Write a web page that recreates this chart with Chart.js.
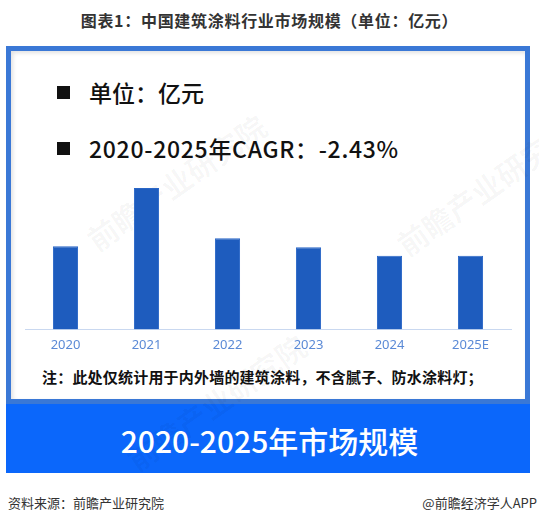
<!DOCTYPE html>
<html>
<head>
<meta charset="utf-8">
<script src="https://cdn.jsdelivr.net/npm/chart.js@4"></script>
<style>
  html, body { margin: 0; padding: 0; background: #fff; }
  body { width: 539px; height: 519px; position: relative; overflow: hidden;
         font-family: "Noto Sans CJK SC", "Noto Sans", sans-serif; }
  .title { position: absolute; left: 0; top: 8px; width: 539px; text-align: center;
           font-size: 16px; font-weight: bold; color: #333; line-height: 24px; letter-spacing: 0.7px; }
  .outer { position: absolute; left: 6px; top: 46px; width: 524px; height: 427px; background: #0b67fb; }
  .panel { position: absolute; left: 0; top: 0; width: 524px; height: 358px; box-sizing: border-box;
           border: 5px solid #3a78d6; background: #fff; box-shadow: inset 2px 2px 4px rgba(0,0,0,0.12); }
  .leg { position: absolute; left: 0; font-size: 23px; font-weight: 500; color: #111; line-height: 30px; white-space: nowrap; }
  .leg .sq { position: absolute; left: 57px; width: 13px; height: 13px; background: #111; }
  .leg .tx { position: absolute; left: 89px; top: 0; }
  .note { position: absolute; left: 42px; top: 367px; font-size: 15px; font-weight: bold; color: #111; white-space: nowrap; line-height: 20px; letter-spacing: 0.2px; }
  .band { position: absolute; left: 0; top: 420px; width: 539px; text-align: center; color: #fff;
          font-size: 30px; font-weight: 500; line-height: 40px; }
  .src { position: absolute; left: 8px; top: 494px; font-size: 13px; color: #333; line-height: 18px; }
  .app { position: absolute; right: 2px; top: 494px; font-size: 13px; color: #333; line-height: 18px; }
  .wm { position: absolute; color: rgba(0,0,0,0.035); font-size: 30px; font-weight: bold; white-space: nowrap;
        transform: rotate(-35deg); transform-origin: left center; }
  canvas { position: absolute; left: 12px; top: 150px; }
</style>
</head>
<body>
<div class="title">图表1：中国建筑涂料行业市场规模（单位：亿元）</div>
<div class="outer">
  <div class="panel"></div>
</div>
<div class="wm" style="left:90px; top:220px;">前瞻产业研究院</div>
<div class="wm" style="left:400px; top:225px;">前瞻产业研究院</div>
<div class="wm" style="left:130px; top:440px;">前瞻产业研究院</div>
<div class="leg" style="top:77px;"><span class="sq" style="top:9px;"></span><span class="tx">单位：亿元</span></div>
<div class="leg" style="top:133px;"><span class="sq" style="top:9px;"></span><span class="tx" style="letter-spacing:0.7px;">2020-2025年CAGR：-2.43%</span></div>
<canvas id="c" width="512" height="211"></canvas>
<div class="note">注：此处仅统计用于内外墙的建筑涂料，不含腻子、防水涂料灯；</div>
<div class="band">2020-2025年市场规模</div>
<div class="src">资料来源：前瞻产业研究院</div>
<div class="app">@前瞻经济学人APP</div>
<script>
const categories = ["2020", "2021", "2022", "2023", "2024", "2025E"];
const marketSize = [1660, 2820, 1820, 1640, 1470, 1468];
const yMax = 3580;

new Chart(document.getElementById('c'), {
  type: 'bar',
  data: {
    labels: categories,
    datasets: [{
      data: marketSize,
      backgroundColor: '#1e5cbe',
      borderColor: '#2a66c6',
      borderWidth: 1,
      barPercentage: 0.31,
      categoryPercentage: 1.0
    }]
  },
  options: {
    responsive: false,
    animation: false,
    events: [],
    layout: { padding: { left: 13, right: 13, top: 0, bottom: 0 } },
    plugins: { legend: { display: false }, tooltip: { enabled: false } },
    scales: {
      x: {
        grid: { display: false, drawTicks: false },
        border: { display: true, color: '#c9d8f0', width: 1 },
        ticks: { color: '#5b8ad6', font: { size: 13, family: 'Noto Sans, sans-serif' }, padding: 8 }
      },
      y: { display: false, min: 0, max: yMax }
    }
  }
});
</script>
</body>
</html>
